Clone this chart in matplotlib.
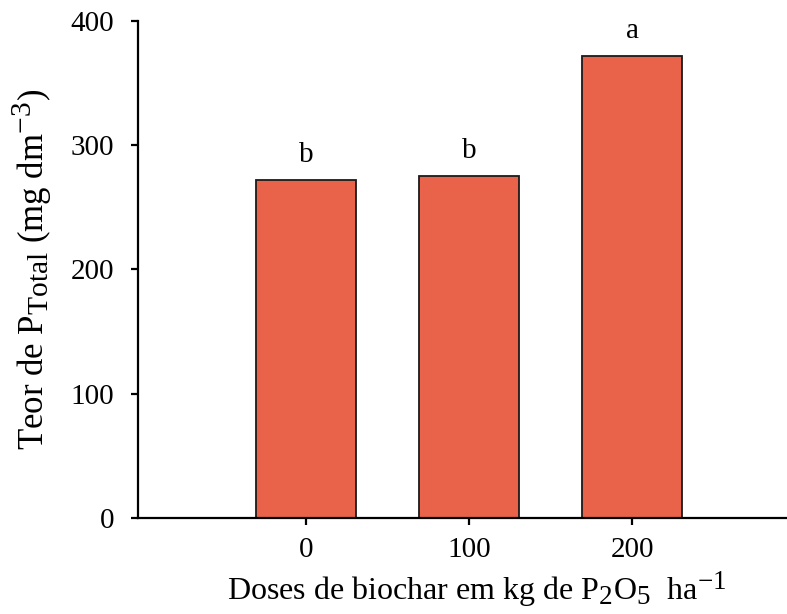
import numpy as np
import matplotlib
matplotlib.use("Agg")
import matplotlib.pyplot as plt
import matplotlib._mathtext as mtext

# sub/superscripts in the original are only slightly smaller than the main text
mtext.SHRINK_FACTOR = 0.85

plt.rcParams["font.family"] = ["Liberation Serif", "DejaVu Serif"]
plt.rcParams["mathtext.fontset"] = "custom"
plt.rcParams["mathtext.rm"] = "Liberation Serif"
plt.rcParams["mathtext.it"] = "Liberation Serif:italic"
plt.rcParams["mathtext.bf"] = "Liberation Serif:bold"

doses = ["0", "100", "200"]
p_total = [271.7, 275.2, 371.6]
letters = ["b", "b", "a"]

fig = plt.figure(figsize=(7.87, 6.14), dpi=100)
ax = fig.add_axes([0.1753, 0.1564, 0.8247, 0.81])

x = np.arange(len(doses))
ax.bar(x, p_total, width=0.61, color="#E9634B", edgecolor="#1a1a1a", linewidth=1.3)

for xi, val, lab in zip(x, p_total, letters):
    ax.text(xi, val + 20, lab, ha="center", va="center", fontsize=21)

ax.set_xlim(-1.03, 2.95)
ax.set_ylim(0, 400)
ax.set_xticks(x)
ax.set_xticklabels(doses)
ax.set_yticks([0, 100, 200, 300, 400])

for side in ["top", "right"]:
    ax.spines[side].set_visible(False)
for side in ["left", "bottom"]:
    ax.spines[side].set_linewidth(1.6)
ax.tick_params(axis="both", direction="out", length=5, width=1.6, labelsize=21)
ax.tick_params(axis="x", pad=9)
ax.tick_params(axis="y", pad=12)

ax.set_ylabel(r"Teor de P$_{\mathrm{Total}}$ (mg dm$^{\mathrm{-3}}$)", fontsize=25, labelpad=12)
ax.set_xlabel(r"Doses de biochar em kg de P$_{\mathrm{2}}$O$_{\mathrm{5}}$  ha$^{\mathrm{-1}}$", fontsize=23, labelpad=4)
ax.xaxis.label.set_x(0.522)

fig.savefig("out.png", dpi=100)
